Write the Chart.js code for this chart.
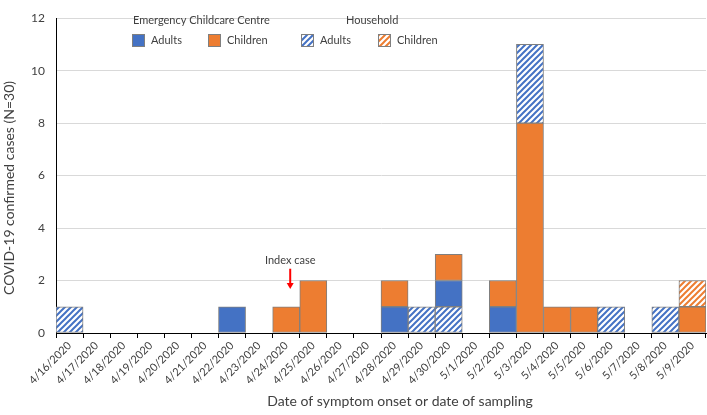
<!DOCTYPE html>
<html>
<head>
<meta charset="utf-8">
<script src="https://cdn.jsdelivr.net/npm/chart.js@4.4.1/dist/chart.umd.min.js"></script>
<style>
  body { margin: 0; background: #fff; }
  #wrap { width: 707px; height: 415px; }
</style>
</head>
<body>
<div id="wrap"><canvas id="cases" width="707" height="415"></canvas></div>
<script>
// fechas de inicio de síntomas o de muestreo
const dates = ['4/16/2020', '4/17/2020', '4/18/2020', '4/19/2020', '4/20/2020', '4/21/2020',
  '4/22/2020', '4/23/2020', '4/24/2020', '4/25/2020', '4/26/2020', '4/27/2020', '4/28/2020',
  '4/29/2020', '4/30/2020', '5/1/2020', '5/2/2020', '5/3/2020', '5/4/2020', '5/5/2020',
  '5/6/2020', '5/7/2020', '5/8/2020', '5/9/2020'];

// household adults on 4/30 sit below the centre cases, so they get their own array
const hhAdultsBelow = [0, 0, 0, 0, 0, 0, 0, 0, 0, 0, 0, 0, 0, 0, 1, 0, 0, 0, 0, 0, 0, 0, 0, 0];
const eccAdults     = [0, 0, 0, 0, 0, 0, 1, 0, 0, 0, 0, 0, 1, 0, 1, 0, 1, 0, 0, 0, 0, 0, 0, 0];
const eccChildren   = [0, 0, 0, 0, 0, 0, 0, 0, 1, 2, 0, 0, 1, 0, 1, 0, 1, 8, 1, 1, 0, 0, 0, 1];
const hhAdults      = [1, 0, 0, 0, 0, 0, 0, 0, 0, 0, 0, 0, 0, 1, 0, 0, 0, 3, 0, 0, 1, 0, 1, 0];
const hhChildren    = [0, 0, 0, 0, 0, 0, 0, 0, 0, 0, 0, 0, 0, 0, 0, 0, 0, 0, 0, 0, 0, 0, 0, 1];

const yTicks = [0, 2, 4, 6, 8, 10, 12];
const indexCaseDate = '4/24/2020';

const BLUE = '#4472C4';
const ORANGE = '#ED7D31';
const EDGE = '#7f7f7f';
const TEXT = '#404040';

function hatch(color) {
  const s = 6;
  const c = document.createElement('canvas');
  c.width = s; c.height = s;
  const g = c.getContext('2d');
  g.fillStyle = '#fff';
  g.fillRect(0, 0, s, s);
  g.strokeStyle = color;
  g.lineWidth = 2;
  g.beginPath();
  g.moveTo(0, s); g.lineTo(s, 0);
  g.moveTo(-s / 2, s / 2); g.lineTo(s / 2, -s / 2);
  g.moveTo(s / 2, s * 1.5); g.lineTo(s * 1.5, s / 2);
  g.stroke();
  return g.createPattern(c, 'repeat');
}
const blueHatch = hatch(BLUE);
const orangeHatch = hatch(ORANGE);

Chart.defaults.font.family = 'Lato, "Open Sans", sans-serif';
Chart.defaults.color = TEXT;

function bar(data, fill) {
  return { data: data, backgroundColor: fill, borderColor: EDGE, borderWidth: 1,
           barPercentage: 1, categoryPercentage: 1, borderSkipped: false };
}

// leyenda, títulos de ejes y la flecha del caso índice
const extras = {
  id: 'extras',
  afterDraw(chart) {
    const ctx = chart.ctx;
    const x = chart.scales.x, y = chart.scales.y;
    ctx.save();
    ctx.fillStyle = TEXT;
    ctx.textBaseline = 'middle';
    ctx.textAlign = 'left';
    ctx.font = '11px Lato';
    ctx.fillText('Emergency Childcare Centre', 133, 20);
    ctx.fillText('Household', 346, 20);
    const items = [
      [132, blueBorder(BLUE), 'Adults'],
      [208, ORANGE, 'Children'],
      [301, blueHatch, 'Adults'],
      [378, orangeHatch, 'Children']
    ];
    function blueBorder(c) { return c; }
    items.forEach(function (it) {
      ctx.fillStyle = it[1];
      ctx.fillRect(it[0], 34, 12, 12);
      ctx.strokeStyle = EDGE;
      ctx.lineWidth = 1;
      ctx.strokeRect(it[0] + 0.5, 34.5, 12, 12);
      ctx.fillStyle = TEXT;
      ctx.fillText(it[2], it[0] + 19, 40);
    });

    // axis titles
    ctx.font = '14px Lato';
    ctx.textAlign = 'center';
    ctx.fillText('Date of symptom onset or date of sampling', 400, 401);
    ctx.save();
    ctx.translate(9, 188);
    ctx.rotate(-Math.PI / 2);
    ctx.fillText('COVID-19 confirmed cases (N=30)', 0, 0);
    ctx.restore();

    // index case
    const ax = x.getPixelForValue(dates.indexOf(indexCaseDate)) + 4;
    ctx.font = '11px Lato';
    ctx.fillText('Index case', ax, y.getPixelForValue(2.76));
    const top = y.getPixelForValue(2.45), tip = y.getPixelForValue(1.68);
    ctx.strokeStyle = '#ff0000';
    ctx.fillStyle = '#ff0000';
    ctx.lineWidth = 2;
    ctx.beginPath();
    ctx.moveTo(ax, top); ctx.lineTo(ax, tip - 5);
    ctx.stroke();
    ctx.beginPath();
    ctx.moveTo(ax - 3.5, tip - 6); ctx.lineTo(ax + 3.5, tip - 6); ctx.lineTo(ax, tip);
    ctx.closePath();
    ctx.fill();
    ctx.restore();
  }
};

new Chart(document.getElementById('cases'), {
  type: 'bar',
  data: {
    labels: dates,
    datasets: [
      bar(hhAdultsBelow, blueHatch),
      bar(eccAdults, BLUE),
      bar(eccChildren, ORANGE),
      bar(hhAdults, blueHatch),
      bar(hhChildren, orangeHatch)
    ]
  },
  options: {
    responsive: false,
    animation: false,
    layout: { padding: { top: 3, right: 1, left: 0, bottom: 0 } },
    plugins: { legend: { display: false }, tooltip: { enabled: false } },
    scales: {
      x: {
        stacked: true,
        offset: true,
        grid: { offset: true, drawOnChartArea: false, drawTicks: true, tickLength: 5, color: '#000' },
        border: { color: '#000', width: 1 },
        ticks: { autoSkip: false, minRotation: 45, maxRotation: 45, padding: 1,
                 font: { size: 11 }, color: TEXT },
        afterFit(s) { s.height = 82; }
      },
      y: {
        stacked: true,
        min: 0,
        max: 12,
        afterBuildTicks(s) { s.ticks = yTicks.map(v => ({ value: v })); },
        grid: { color: '#d9d9d9', drawTicks: false },
        border: { color: '#000', width: 1 },
        ticks: { padding: 11, font: { size: 12 }, color: TEXT },
        afterFit(s) { s.width = 56; }
      }
    }
  },
  plugins: [extras]
});
</script>
</body>
</html>
